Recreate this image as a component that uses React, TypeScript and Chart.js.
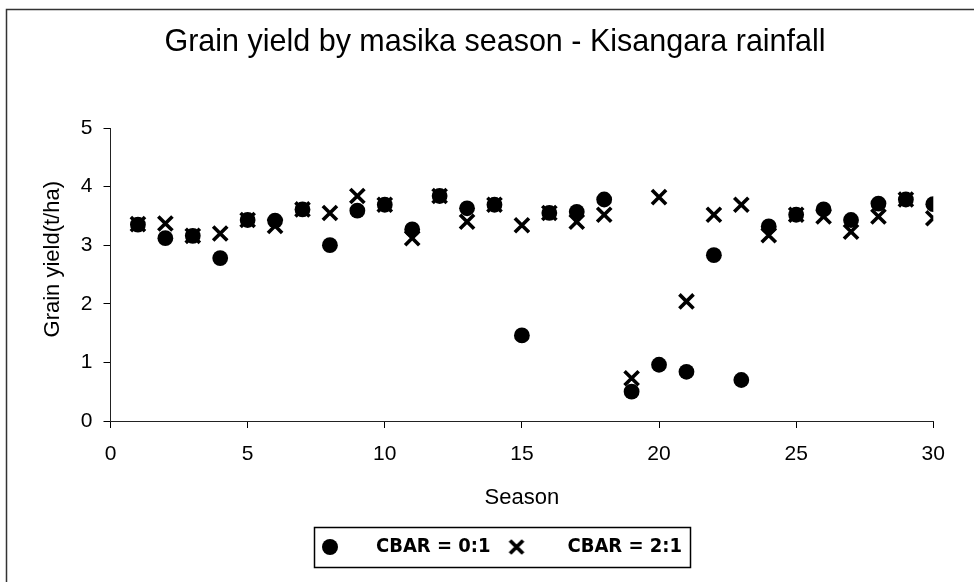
import React, { useEffect, useRef } from "react";
import { Chart, registerables } from "chart.js";

Chart.register(...registerables);

// ---- data ----
const seasons = [1, 2, 3, 4, 5, 6, 7, 8, 9, 10, 11, 12, 13, 14, 15, 16, 17, 18, 19, 20, 21, 22, 23, 24, 25, 26, 27, 28, 29, 30];
const cbar01 = [3.35, 3.12, 3.16, 2.78, 3.43, 3.42, 3.61, 3.0, 3.59, 3.69, 3.27, 3.84, 3.63, 3.69, 1.46, 3.55, 3.57, 3.78, 0.5, 0.96, 0.84, 2.83, 0.7, 3.32, 3.52, 3.61, 3.43, 3.71, 3.78, 3.7];
const cbar21 = [3.36, 3.37, 3.16, 3.2, 3.43, 3.33, 3.61, 3.55, 3.84, 3.69, 3.12, 3.84, 3.4, 3.69, 3.34, 3.55, 3.4, 3.52, 0.73, 3.82, 2.04, 3.52, 3.69, 3.17, 3.52, 3.49, 3.23, 3.49, 3.78, 3.46];
const seriesLabels = ["CBAR = 0:1", "CBAR = 2:1"];
const titleText = "Grain yield by masika season - Kisangara rainfall";
const xTitle = "Season";
const yTitle = "Grain yield(t/ha)";
const xTicks = [0, 5, 10, 15, 20, 25, 30];
const yTicks = [0, 1, 2, 3, 4, 5];

const SANS = '"Liberation Sans", Arial, Helvetica, sans-serif';
const NARROW = '"Liberation Sans Narrow", "Arial Narrow", "DejaVu Sans Condensed", "Liberation Sans", sans-serif';
const LEGEND_FS = 20;
const LEGEND_BOXW = 52;

function makeMarker(kind: string, cx: number): HTMLCanvasElement {
  const c = document.createElement("canvas");
  c.width = LEGEND_BOXW;
  c.height = 20;
  const g = c.getContext("2d")!;
  g.fillStyle = "#000";
  g.strokeStyle = "#000";
  if (kind === "circle") {
    g.beginPath();
    g.arc(cx, 10, 8, 0, Math.PI * 2);
    g.fill();
  } else {
    g.lineWidth = 3.8;
    const r = 6.5;
    g.beginPath();
    g.moveTo(cx - r, 10 - r);
    g.lineTo(cx + r, 10 + r);
    g.moveTo(cx + r, 10 - r);
    g.lineTo(cx - r, 10 + r);
    g.stroke();
  }
  return c;
}

const refLayout = {
  id: "refLayout",
  afterUpdate(chart: any) {
    const t = chart.titleBlock;
    if (t) {
      const dx = 495 - (t.left + t.right) / 2;
      t.left += dx;
      t.right += dx;
    }
    const lg = chart.legend;
    if (lg && lg.legendHitBoxes && lg.legendHitBoxes.length) {
      const hb = lg.legendHitBoxes;
      const dx = 314 - hb[0].left;
      const dy = 547 - (hb[0].top + LEGEND_FS / 2);
      lg.left += dx;
      lg.right += dx;
      lg.top += dy;
      lg.bottom += dy;
      hb.forEach((h: any) => {
        h.left += dx;
        h.top += dy;
      });
    }
  },
  afterDraw(chart: any) {
    const ctx = chart.ctx;
    ctx.save();
    const lg = chart.legend;
    if (lg && lg.legendHitBoxes && lg.legendHitBoxes.length) {
      const hb = lg.legendHitBoxes;
      const last = hb[hb.length - 1];
      const l = Math.round(hb[0].left);
      const r = Math.round(last.left + last.width + 8);
      const cy = hb[0].top + LEGEND_FS / 2;
      ctx.strokeStyle = "#000";
      ctx.lineWidth = 1.5;
      ctx.strokeRect(l + 0.5, Math.round(cy - 20) + 0.5, r - l, 40);
    }
    // outer chart-area frame
    ctx.strokeStyle = "#333";
    ctx.lineWidth = 1.5;
    ctx.beginPath();
    ctx.moveTo(6.5, 582);
    ctx.lineTo(6.5, 9.5);
    ctx.lineTo(974, 9.5);
    ctx.stroke();
    ctx.restore();
  },
};

export default function App() {
  const ref = useRef<HTMLCanvasElement | null>(null);

  useEffect(() => {
    if (!ref.current) return;
    const circleImg = makeMarker("circle", 16);
    const crossImg = makeMarker("cross", 11);

    const chart = new Chart(ref.current, {
      type: "scatter",
      data: {
        datasets: [
          {
            label: seriesLabels[0],
            data: seasons.map((s, i) => ({ x: s, y: cbar01[i] })),
            pointStyle: "circle",
            pointRadius: 7.9,
            pointBorderWidth: 0,
            backgroundColor: "#000",
            borderColor: "#000",
            showLine: false,
          },
          {
            label: seriesLabels[1],
            data: seasons.map((s, i) => ({ x: s, y: cbar21[i] })),
            pointStyle: "crossRot",
            pointRadius: 10,
            pointBorderWidth: 3.6,
            backgroundColor: "#000",
            borderColor: "#000",
            showLine: false,
          },
        ],
      },
      options: {
        responsive: false,
        animation: false,
        events: [],
        layout: { padding: { left: 8, right: 40.7, top: 0, bottom: 31 } },
        plugins: {
          tooltip: { enabled: false },
          title: {
            display: true,
            text: titleText,
            color: "#000",
            font: { family: SANS, size: 30.5, weight: "normal", lineHeight: 1.2 },
            padding: { top: 24.2, bottom: 67.2 },
          },
          legend: {
            display: true,
            position: "bottom",
            maxHeight: 40,
            labels: {
              usePointStyle: true,
              pointStyleWidth: LEGEND_BOXW,
              padding: 15,
              color: "#000",
              font: { family: NARROW, size: LEGEND_FS, weight: "bold" },
              generateLabels: (c: any) =>
                c.data.datasets.map((ds: any, i: number) => ({
                  text: ds.label,
                  pointStyle: i === 0 ? circleImg : crossImg,
                  fillStyle: "#000",
                  strokeStyle: "#000",
                  fontColor: "#000",
                  lineWidth: 0,
                  hidden: false,
                  datasetIndex: i,
                })),
            },
          },
        },
        scales: {
          x: {
            type: "linear",
            min: 0,
            max: 30,
            afterBuildTicks: (s: any) => {
              s.ticks = xTicks.map((v) => ({ value: v }));
            },
            afterFit: (s: any) => {
              s.height = 90;
              s.paddingLeft = 0;
              s.paddingRight = 0;
            },
            ticks: {
              color: "#000",
              padding: 14,
              maxRotation: 0,
              autoSkip: false,
              font: { family: SANS, size: 21 },
            },
            grid: { display: true, drawOnChartArea: false, drawTicks: true, tickLength: 7, color: "#000" },
            border: { display: true, color: "#222", width: 1 },
            title: {
              display: true,
              text: xTitle,
              color: "#000",
              font: { family: SANS, size: 22 },
              padding: { top: 0, bottom: 0 },
            },
          },
          y: {
            type: "linear",
            min: 0,
            max: 5,
            afterBuildTicks: (s: any) => {
              s.ticks = yTicks.map((v) => ({ value: v }));
            },
            afterFit: (s: any) => {
              s.width = 102.5;
              s.paddingTop = 0;
              s.paddingBottom = 0;
            },
            ticks: {
              color: "#000",
              padding: 11,
              font: { family: SANS, size: 21 },
            },
            grid: { display: true, drawOnChartArea: false, drawTicks: true, tickLength: 7, color: "#000" },
            border: { display: true, color: "#222", width: 1 },
            title: {
              display: true,
              text: "     " + yTitle,
              color: "#000",
              font: { family: SANS, size: 22 },
              padding: { top: 31.8, bottom: 0 },
            },
          },
        },
      },
      plugins: [refLayout],
    } as any);

    return () => chart.destroy();
  }, []);

  return (
    <div style={{ position: "absolute", left: 0, top: 0, width: 974, height: 582, background: "#fff" }}>
      <canvas ref={ref} width={974} height={582} style={{ display: "block" }} />
    </div>
  );
}
